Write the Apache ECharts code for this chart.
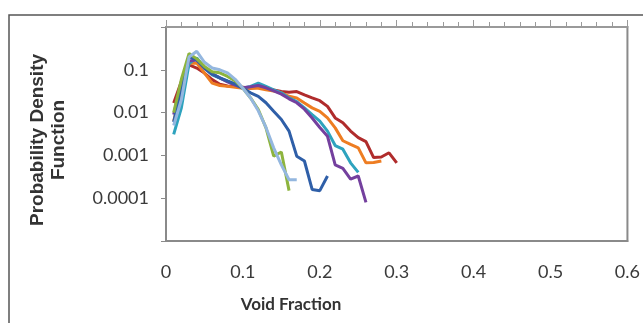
<!DOCTYPE html>
<html><head><meta charset="utf-8">
<script src="https://cdn.jsdelivr.net/npm/echarts@6/dist/echarts.min.js"></script>
<style>html,body{margin:0;padding:0;background:#fff;}#c{width:643px;height:323px;}</style>
</head><body><div id="c"></div>
<script>
// x positions of bins (void fraction)
const xValues = [0.01,0.02,0.03,0.04,0.05,0.06,0.07,0.08,0.09,0.10,0.11,0.12,0.13,0.14,0.15,0.16,0.17,0.18,0.19,0.20,0.21,0.22,0.23,0.24,0.25,0.26,0.27,0.28,0.29,0.30];
const yTickLabels = ['0.1','0.01','0.001','0.0001'];
const xTickLabels = ['0','0.1','0.2','0.3','0.4','0.5','0.6'];

const red = [0.0168,0.053,0.13,0.11,0.084,0.059,0.046,0.042,0.041,0.039,0.037,0.039,0.036,0.034,0.031,0.030,0.031,0.026,0.022,0.019,0.014,0.0075,0.0058,0.0037,0.0026,0.0021,0.00089,0.00092,0.00115,0.00067];
const orange = [0.0063,0.031,0.143,0.143,0.084,0.049,0.043,0.041,0.039,0.037,0.037,0.037,0.034,0.032,0.029,0.024,0.022,0.0168,0.0129,0.0107,0.0075,0.0044,0.0022,0.0018,0.0015,0.00067,0.00068,0.00074];
const teal = [0.0031,0.013,0.14,0.19,0.11,0.076,0.064,0.054,0.045,0.037,0.041,0.049,0.041,0.034,0.029,0.022,0.018,0.0129,0.009,0.0063,0.0037,0.0017,0.0014,0.00067,0.0004];
const purple = [0.009,0.05,0.16,0.17,0.11,0.08,0.065,0.052,0.044,0.038,0.04,0.043,0.038,0.032,0.027,0.021,0.017,0.012,0.0075,0.0045,0.0028,0.0006,0.0005,0.00028,0.00033,0.00008];
const blue = [0.006,0.04,0.2,0.17,0.11,0.08,0.065,0.055,0.047,0.037,0.029,0.024,0.017,0.0107,0.0069,0.0037,0.00096,0.00074,0.00016,0.00015,0.00033];
const green = [0.01,0.06,0.24,0.18,0.12,0.09,0.085,0.07,0.055,0.037,0.022,0.0118,0.0044,0.00096,0.0012,0.00015];
const lightBlue = [0.005,0.02,0.2,0.27,0.15,0.11,0.1,0.085,0.06,0.037,0.022,0.011,0.0045,0.0015,0.0006,0.00027,0.00027];

const seriesList = [
  {name:'s1', data:red, color:'#b02c2c'},
  {name:'s2', data:orange, color:'#ee7d22'},
  {name:'s3', data:teal, color:'#2ea3be'},
  {name:'s4', data:purple, color:'#74409e'},
  {name:'s5', data:blue, color:'#2f5fa8'},
  {name:'s6', data:green, color:'#8db43e'},
  {name:'s7', data:lightBlue, color:'#94b7df'}
];

const chart = echarts.init(document.getElementById('c'), null, {renderer:'canvas'});
const yLabelMap = {};
yTickLabels.forEach(s => { yLabelMap[Number(s).toExponential()] = s; });

chart.setOption({
  animation:false,
  backgroundColor:'#fff',
  grid:{left:166, top:27, right:15, bottom:82, show:true, borderColor:'#8a8a8a', borderWidth:2, backgroundColor:'transparent'},
  xAxis:[{
    type:'value', min:0, max:0.6, interval:0.1, position:'bottom',
    axisLine:{show:true, lineStyle:{color:'#8a8a8a', width:2}},
    axisTick:{show:false}, splitLine:{show:false},
    axisLabel:{margin:22, fontFamily:'Lato', fontSize:18, color:'#3a3a3a',
      formatter:(v)=>{ const i=Math.round(v*10); return xTickLabels[i]; }}
  },{
    type:'value', min:0, max:0.6, interval:0.1, position:'top',
    axisLine:{show:true, lineStyle:{color:'#9a9a9a', width:2}},
    axisTick:{show:true, length:7, lineStyle:{color:'#9a9a9a', width:1}},
    minorTick:{show:true, splitNumber:5, length:5, lineStyle:{color:'#9a9a9a', width:1}},
    axisLabel:{show:false}, splitLine:{show:false}
  }],
  yAxis:{
    type:'log', logBase:10, min:0.00001, max:1,
    axisLine:{show:true, lineStyle:{color:'#8a8a8a', width:2}},
    axisTick:{show:true, length:5, lineStyle:{color:'#8a8a8a'}},
    splitLine:{show:false},
    axisLabel:{margin:17, fontFamily:'Lato', fontSize:18, color:'#3a3a3a',
      formatter:(v)=>{ const k=Number(v).toExponential(); return yLabelMap[k] || ''; }}
  },
  series: seriesList.map(s=>({
    type:'line', name:s.name, xAxisIndex:0, symbol:'none',
    lineStyle:{width:3, color:s.color}, itemStyle:{color:s.color},
    data: s.data.map((p,i)=>[xValues[i], p])
  })),
  graphic:[
    {type:'rect', shape:{x:9, y:15, width:700, height:400}, style:{fill:'none', stroke:'#555', lineWidth:1.5}, z:-10},
    {type:'text', x:48, y:140, rotation:Math.PI/2, style:{text:'Probability Density\nFunction', font:'bold 19px "Liberation Sans"', fill:'#333', align:'center', verticalAlign:'middle', lineHeight:21}},
    {type:'text', x:291, y:305, style:{text:'Void Fraction', font:'bold 17px Lato', fill:'#333', align:'center', verticalAlign:'middle'}}
  ]
});
</script>
</body></html>
